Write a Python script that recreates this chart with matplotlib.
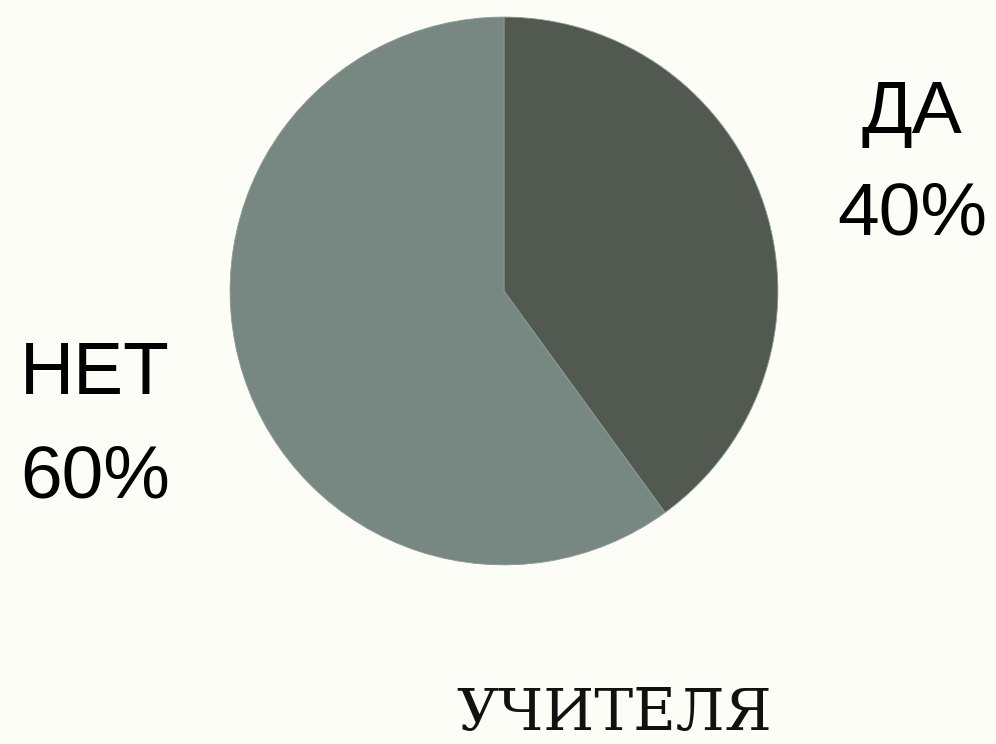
import matplotlib.pyplot as plt

# данные
labels = ["ДА", "НЕТ"]
values = [40, 60]
colors = ["#525950", "#778882"]
title = "УЧИТЕЛЯ"

bg = "#fdfdf8"
fig = plt.figure(figsize=(9.96, 7.44), dpi=100, facecolor=bg)

ax = fig.add_axes([0.231, 0.2406, 0.550, 0.7366])
ax.set_facecolor(bg)
ax.pie(values, colors=colors, startangle=90, counterclock=False,
       wedgeprops=dict(edgecolor="#8a9a94", linewidth=0.6))
ax.set_xlim(-1, 1)
ax.set_ylim(-1, 1)
ax.set_aspect("equal")
ax.axis("off")

# подписи долей
fs = 54
fig.text(912 / 996, 1 - 113 / 744, labels[0], ha="center", va="center",
         fontsize=fs, family="Liberation Sans", color="#000000")
fig.text(912 / 996, 1 - 215 / 744, f"{values[0]}%", ha="center", va="center",
         fontsize=fs, family="Liberation Sans", color="#000000")
fig.text(20 / 996, 1 - 375 / 744, labels[1], ha="left", va="center",
         fontsize=fs, family="Liberation Sans", color="#000000")
fig.text(20 / 996, 1 - 478 / 744, f"{values[1]}%", ha="left", va="center",
         fontsize=fs, family="Liberation Sans", color="#000000")

# заголовок
fig.text(614 / 996, 2 / 744, title, ha="center", va="bottom",
         fontsize=42, family="DejaVu Serif", color="#111111")

fig.savefig("out.png", dpi=100, facecolor=bg)
